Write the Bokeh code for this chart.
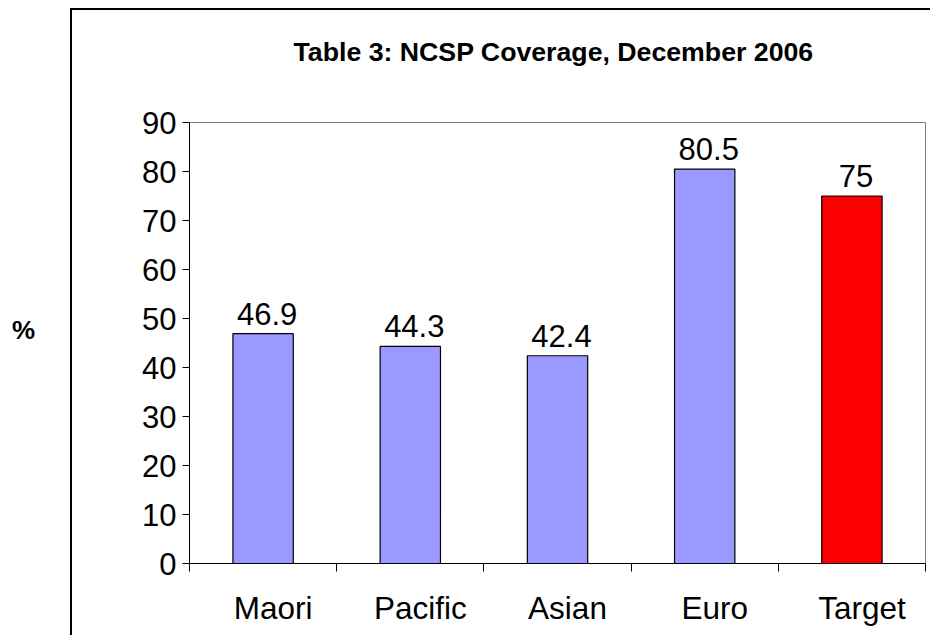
from bokeh.plotting import figure
from bokeh.models import Range1d, FixedTicker, LabelSet, ColumnDataSource
from bokeh.embed import file_html
from bokeh.resources import INLINE
from bokeh.core.properties import value

# ---- data ----
categories = ["Maori", "Pacific", "Asian", "Euro", "Target"]
coverage = [46.9, 44.3, 42.4, 80.5, 75]
bar_colors = ["#9999FF", "#9999FF", "#9999FF", "#9999FF", "#FF0000"]
y_ticks = [0, 10, 20, 30, 40, 50, 60, 70, 80, 90]
title_text = "Table 3: NCSP Coverage, December 2006"
y_label = "%"

FONT = "Liberation Sans"
LABEL_SHIFT = 0.068  # category labels sit slightly right of bar centres

xs = [i + 0.5 for i in range(len(categories))]
label_pos = [x + LABEL_SHIFT for x in xs]
src = ColumnDataSource(dict(
    x=xs,
    top=coverage,
    color=bar_colors,
    label=[f"{v:g}" for v in coverage],
))

p = figure(
    width=930, height=635,
    output_backend="svg", toolbar_location=None,
    x_range=Range1d(0, len(categories)),
    y_range=Range1d(y_ticks[0], y_ticks[-1]),
    min_border_left=189, min_border_right=5,
    min_border_top=122, min_border_bottom=72,
    background_fill_color="white", border_fill_color=None,
)

# outer chart-area border (left & top edges visible in the window)
p.styles = {
    "background-color": "white",
    "background-image": "linear-gradient(black, black), linear-gradient(black, black)",
    "background-size": "2px 100%, 100% 2px",
    "background-position": "70px 8px, 70px 8px",
    "background-repeat": "no-repeat",
}

# title (trailing empty line lifts it towards the top of the chart area)
p.title.text = title_text + "\n"
p.title.text_line_height = 1.55
p.title.align = "left"
p.title.offset = 104
p.title.text_font = FONT
p.title.text_font_size = "26.7px"
p.title.text_font_style = "bold"
p.title.text_color = "black"
p.title.standoff = 18

# frame outline (gray top/right)
p.outline_line_color = "#808080"
p.outline_line_width = 1
p.xgrid.grid_line_color = None
p.ygrid.grid_line_color = None

# bars
p.vbar(x="x", top="top", width=0.41, bottom=0, source=src,
       fill_color="color", line_color="black", line_width=1.2)

# value labels
p.add_layout(LabelSet(x="x", y="top", text="label", source=src,
                      text_align="center", text_baseline="alphabetic",
                      x_offset=4, y_offset=9, text_font=value(FONT),
                      text_font_size=value("31px"),
                      text_color="black"))

# y axis
ya = p.yaxis[0]
ya.ticker = FixedTicker(ticks=y_ticks)
ya.axis_line_color = "black"
ya.major_tick_line_color = "black"
ya.major_tick_out = 7
ya.major_tick_in = 0
ya.minor_tick_line_color = None
ya.major_label_standoff = 6
ya.major_label_text_font = FONT
ya.major_label_text_font_size = "31px"
ya.major_label_text_color = "black"
ya.axis_label = y_label + "\n"
ya.axis_label_text_line_height = 0.85
ya.axis_label_text_font = FONT
ya.axis_label_text_font_size = "26px"
ya.axis_label_text_font_style = "bold"
ya.axis_label_text_color = "black"
ya.axis_label_standoff = 104
try:
    ya.axis_label_orientation = "horizontal"
except Exception:
    pass

# x axis: labels near bar centres, ticks at category boundaries
xa = p.xaxis[0]
xa.ticker = FixedTicker(ticks=label_pos, minor_ticks=list(range(len(categories) + 1)))
xa.major_label_overrides = {x: c for x, c in zip(label_pos, categories)}
xa.axis_line_color = "black"
xa.major_tick_line_color = None
xa.major_tick_out = 0
xa.major_tick_in = 0
xa.minor_tick_line_color = "black"
xa.minor_tick_out = 8
xa.minor_tick_in = 0
xa.major_label_standoff = 18
xa.major_label_text_font = FONT
xa.major_label_text_font_size = "31.5px"
xa.major_label_text_color = "black"

open("out.html", "w").write(file_html(p, INLINE))
